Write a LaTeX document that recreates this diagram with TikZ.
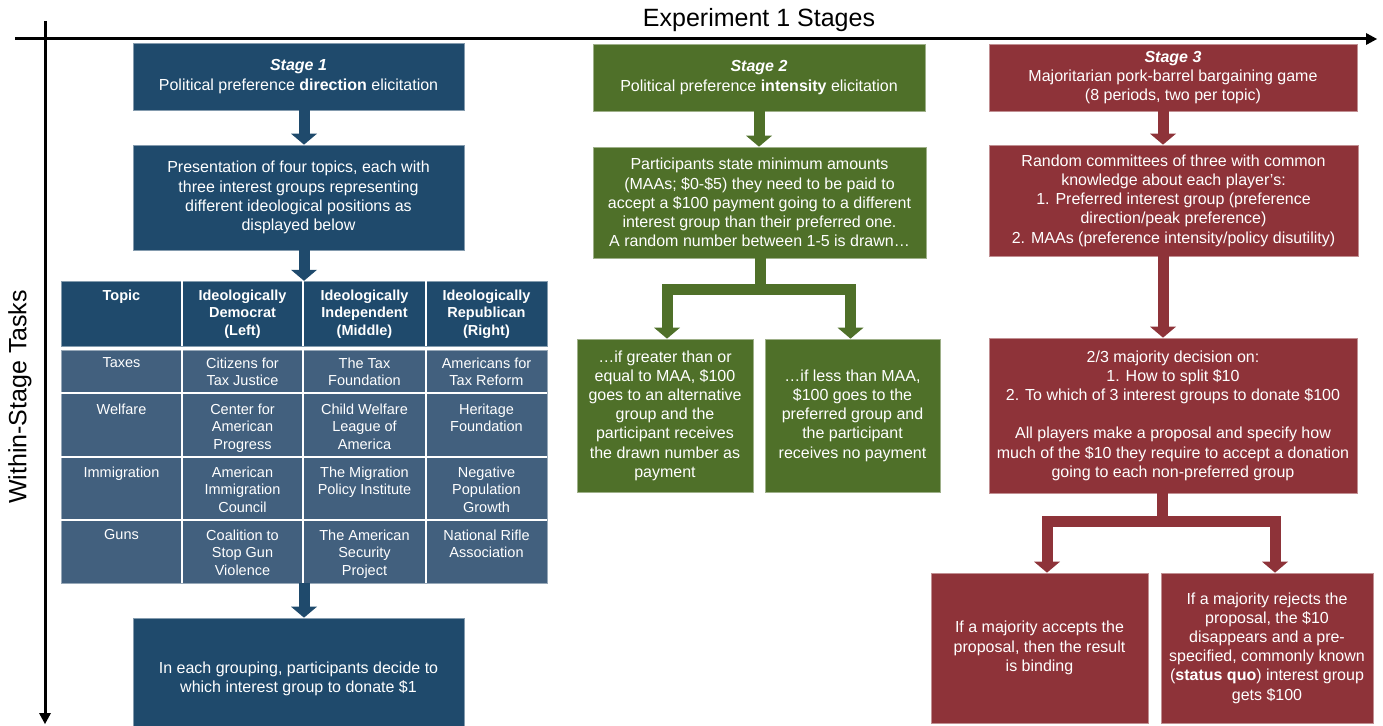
\documentclass[tikz,border=0pt]{standalone}
\usepackage{fontspec}
\setmainfont{Liberation Sans}
\usetikzlibrary{arrows.meta}
\definecolor{sblue}{RGB}{31,74,108}
\definecolor{sslate}{RGB}{66,96,126}
\definecolor{sgreen}{RGB}{79,112,41}
\definecolor{sred}{RGB}{142,51,57}
\newcommand{\bodyfont}{\fontsize{16}{19.2}\selectfont}
\newcommand{\tabfont}{\fontsize{14.5}{17.6}\selectfont}
\newcommand{\labfont}{\fontsize{25}{30}\selectfont}
\begin{document}
\begin{tikzpicture}[x=1pt,y=-1pt,
 stagebox/.style={fill=#1, draw=#1!55!white, line width=0.7pt, text=white, align=center, inner sep=0pt, font=\bodyfont},
 blockarrow/.style={draw=#1, line width=11pt, -{Triangle[width=26pt,length=11pt,line width=0pt]}},
 axisline/.style={draw=black, line width=3pt, -{Triangle[width=12pt,length=11pt,line width=0pt]}},
 cell/.style={text=white, align=center, inner sep=0pt, anchor=north, font=\tabfont},
 headcell/.style={cell, font=\tabfont\bfseries},
 sepline/.style={draw=white, line width=1.6pt}]
\useasboundingbox (0,0) rectangle (1383,725);
\clip (0,0) rectangle (1383,725);
\fill[white] (0,0) rectangle (1383,725);

% axes
\coordinate (hx0) at (15,39);
\coordinate (hx1) at (1377,39);
\coordinate (vy0) at (45,21);
\coordinate (vy1) at (45,724);
\draw[axisline] (hx0) -- (hx1);
\draw[axisline] (vy0) -- (vy1);
\node[font=\labfont, anchor=base] (xlab) at (759,27) {Experiment 1 Stages};
\node[font=\labfont, rotate=90] (ylab) at (20,397) {Within-Stage Tasks};

% ---------------- Stage 1 ----------------
\node[stagebox=sblue, minimum width=331pt, minimum height=67pt] (S1) at (298.5,76.5)
 {\textbf{\textit{Stage 1}}\\Political preference \textbf{direction} elicitation};
\node[stagebox=sblue, minimum width=331pt, minimum height=105pt] (P1) at (298.5,197.5)
 {Presentation of four topics, each with\\three interest groups representing\\different ideological positions as\\displayed below};
\node[stagebox=sblue, minimum width=331pt, minimum height=122pt] (D1) at (298.5,679)
 {In each grouping, participants decide to\\which interest group to donate \$1};

% table
\node[inner sep=0pt, minimum width=486pt, minimum height=302pt] (table) at (304,432) {};
\fill[sblue] (61,281) rectangle (547,346);
\fill[sslate] (61,350) rectangle (547,583);
\draw[sblue!55!white, line width=0.7pt] (61,281) rectangle (547,346);
\draw[sslate!55!white, line width=0.7pt] (61,350) rectangle (547,583);
\foreach \x in {182,303,426} {
  \draw[sepline] (\x,281) -- (\x,346);
  \draw[sepline] (\x,350) -- (\x,583);
}
\foreach \y in {393,457,520} \draw[sepline] (61,\y) -- (547,\y);

\node[headcell] (h1) at (121.5,289.6) {Topic};
\node[headcell] (h2) at (242.5,289.6) {Ideologically\\Democrat\\(Left)};
\node[headcell] (h3) at (364.5,289.6) {Ideologically\\Independent\\(Middle)};
\node[headcell] (h4) at (486.5,289.6) {Ideologically\\Republican\\(Right)};

\node[cell] (a1) at (121.5,357.6) {Taxes};
\node[cell] (a2) at (242.5,357.6) {Citizens for\\Tax Justice};
\node[cell] (a3) at (364.5,357.6) {The Tax\\Foundation};
\node[cell] (a4) at (486.5,357.6) {Americans for\\Tax Reform};

\node[cell] (b1) at (121.5,403.6) {Welfare};
\node[cell] (b2) at (242.5,403.6) {Center for\\American\\Progress};
\node[cell] (b3) at (364.5,403.6) {Child Welfare\\League of\\America};
\node[cell] (b4) at (486.5,403.6) {Heritage\\Foundation};

\node[cell] (c1) at (121.5,466.6) {Immigration};
\node[cell] (c2) at (242.5,466.6) {American\\Immigration\\Council};
\node[cell] (c3) at (364.5,466.6) {The Migration\\Policy Institute};
\node[cell] (c4) at (486.5,466.6) {Negative\\Population\\Growth};

\node[cell] (d1) at (121.5,529.6) {Guns};
\node[cell] (d2) at (242.5,529.6) {Coalition to\\Stop Gun\\Violence};
\node[cell] (d3) at (364.5,529.6) {The American\\Security\\Project};
\node[cell] (d4) at (486.5,529.6) {National Rifle\\Association};

\draw[blockarrow=sblue] (S1.south -| table.north) -- (P1.north -| table.north);
\draw[blockarrow=sblue] (P1.south -| table.north) -- (table.north);
\draw[blockarrow=sblue] (table.south) -- (table.south |- D1.north);

% ---------------- Stage 2 ----------------
\node[stagebox=sgreen, minimum width=332pt, minimum height=67pt] (S2) at (759,77.5)
 {\textbf{\textit{Stage 2}}\\Political preference \textbf{intensity} elicitation};
\node[stagebox=sgreen, minimum width=333pt, minimum height=111pt] (P2) at (759.5,202.5)
 {Participants state minimum amounts\\(MAAs; \$0-\$5) they need to be paid to\\accept a \$100 payment going to a different\\interest group than their preferred one.\\A random number between 1-5 is drawn…};
\node[stagebox=sgreen, minimum width=176pt, minimum height=153pt] (L2) at (665,415.5)
 {…if greater than or\\equal to MAA, \$100\\goes to an alternative\\group and the\\participant receives\\the drawn number as\\payment};
\node[stagebox=sgreen, minimum width=175pt, minimum height=153pt] (R2) at (852.5,415.5)
 {…if less than MAA,\\\$100 goes to the\\preferred group and\\the participant\\receives no payment};
\coordinate (br2) at (760,289.5);
\draw[blockarrow=sgreen] (S2.south) -- (S2.south |- P2.north);
\draw[blockarrow=sgreen] (P2.south -| br2) -- (br2) -| ([xshift=2pt]L2.north);
\draw[blockarrow=sgreen] (P2.south -| br2) -- (br2) -| ([xshift=-2pt]R2.north);

% ---------------- Stage 3 ----------------
\node[stagebox=sred, minimum width=368pt, minimum height=67pt] (S3) at (1173,77.5)
 {\textbf{\textit{Stage 3}}\\Majoritarian pork-barrel bargaining game\\(8 periods, two per topic)};
\node[stagebox=sred, minimum width=369pt, minimum height=111pt] (P3) at (1173.5,200.5)
 {Random committees of three with common\\knowledge about each player’s:\\1. Preferred interest group (preference\\direction/peak preference)\\2. MAAs (preference intensity/policy disutility)};
\node[stagebox=sred, minimum width=368pt, minimum height=155pt] (M3) at (1173,415.5)
 {2/3 majority decision on:\\1. How to split \$10\\2. To which of 3 interest groups to donate \$100\\[19.2pt]All players make a proposal and specify how\\much of the \$10 they require to accept a donation\\going to each non-preferred group};
\node[stagebox=sred, minimum width=217pt, minimum height=150pt] (L3) at (1039.5,648)
 {If a majority accepts the\\proposal, then the result\\is binding};
\node[stagebox=sred, minimum width=212pt, minimum height=150pt] (R3) at (1267,648)
 {If a majority rejects the\\proposal, the \$10\\disappears and a pre-\\specified, commonly known\\(\textbf{status quo}) interest group\\gets \$100};
\coordinate (br3) at (1162,521);
\draw[blockarrow=sred] ([xshift=-10pt]S3.south) -- ([xshift=-10pt]S3.south |- P3.north);
\draw[blockarrow=sred] ([xshift=-10.5pt]P3.south) -- ([xshift=-10.5pt]P3.south |- M3.north);
\draw[blockarrow=sred] (M3.south -| br3) -- (br3) -| ([xshift=7.5pt]L3.north);
\draw[blockarrow=sred] (M3.south -| br3) -- (br3) -| ([xshift=8pt]R3.north);
\end{tikzpicture}
\end{document}
